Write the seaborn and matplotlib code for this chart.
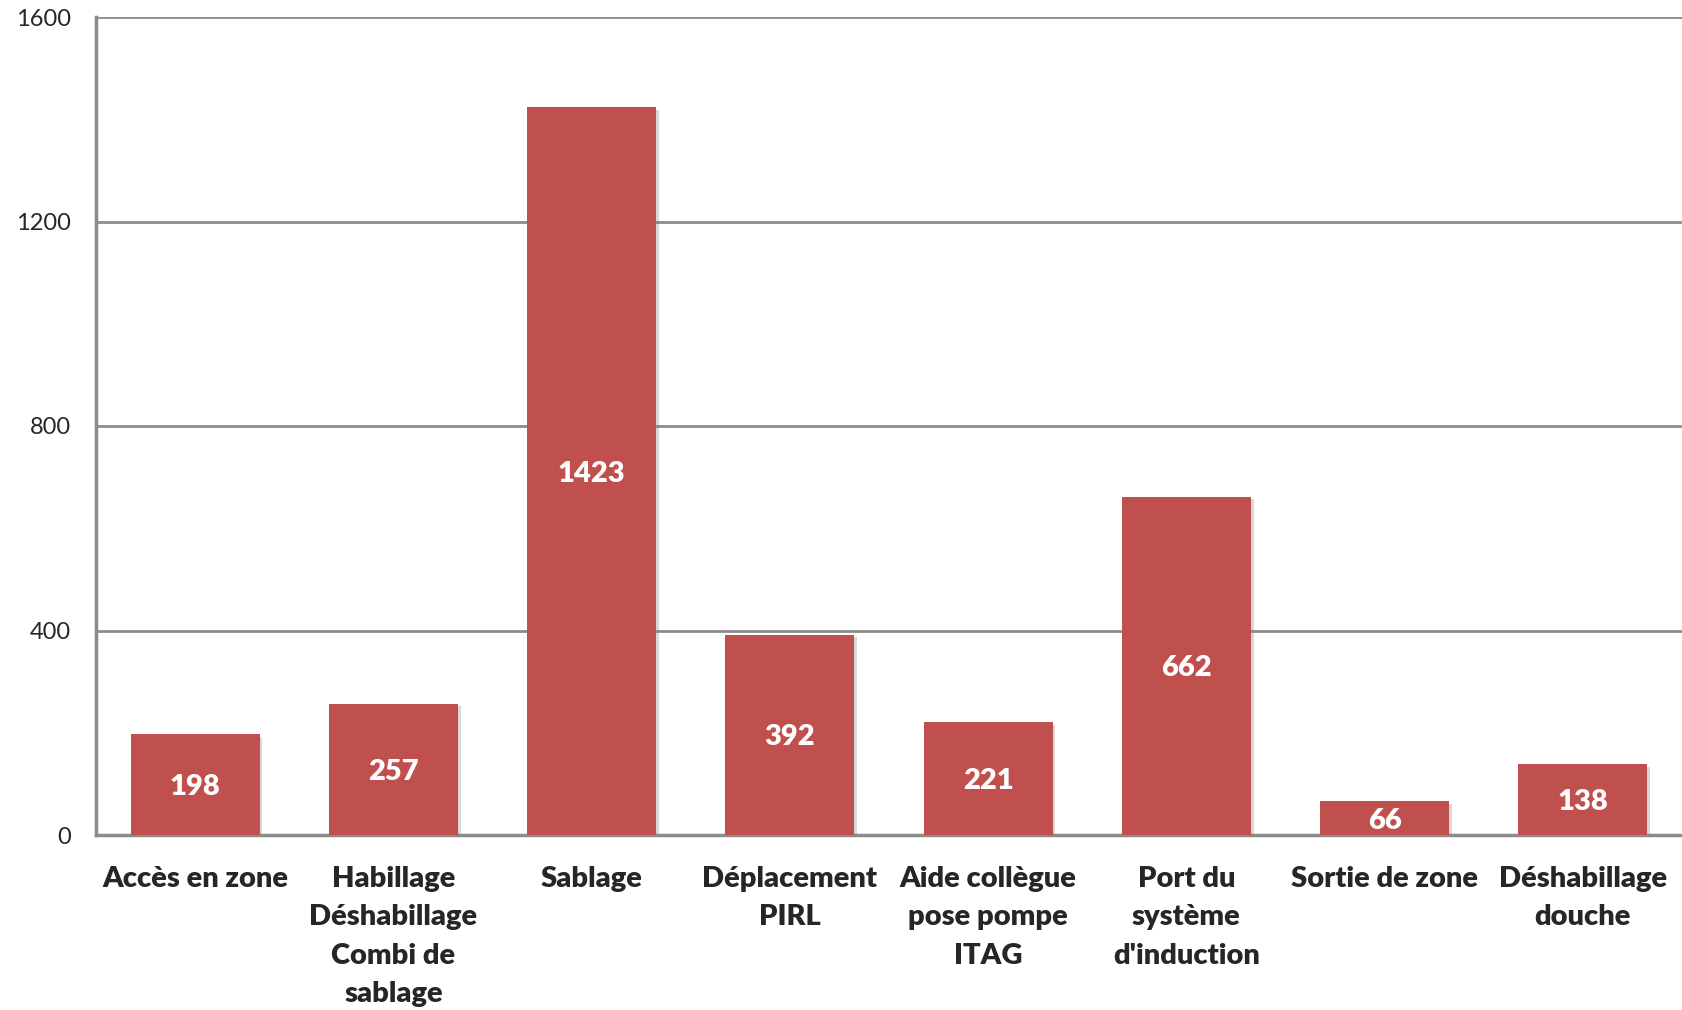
import pandas as pd
import seaborn as sns
import matplotlib.pyplot as plt
import matplotlib.patheffects as pe

categories = [
    "Accès en zone",
    "Habillage\nDéshabillage\nCombi de\nsablage",
    "Sablage",
    "Déplacement\nPIRL",
    "Aide collègue\npose pompe\nITAG",
    "Port du\nsystème\nd'induction",
    "Sortie de zone",
    "Déshabillage\ndouche",
]
values = [198, 257, 1423, 392, 221, 662, 66, 138]
y_ticks = [0, 400, 800, 1200, 1600]

bar_color = "#C0504D"
grid_color = "#8C8C8C"

sns.set_style("white")
plt.rcParams["font.family"] = ["Lato", "DejaVu Sans"]

df = pd.DataFrame({"cat": categories, "val": values})

fig = plt.figure(figsize=(16.82, 10.10), dpi=100)
ax = fig.add_axes([96 / 1682, 1 - 835 / 1010, (1682 - 96) / 1682, (835 - 17) / 1010])

sns.barplot(data=df, x="cat", y="val", color=bar_color, saturation=1,
            width=0.65, ax=ax, zorder=3)

for p in ax.patches:
    p.set_edgecolor("none")
    p.set_path_effects([pe.SimplePatchShadow(offset=(2, -2), shadow_rgbFace="gray", alpha=0.3),
                        pe.Normal()])

for p, v in zip(ax.patches, values):
    ax.text(p.get_x() + p.get_width() / 2, v / 2, str(v), ha="center", va="center_baseline",
            color="white", fontsize=21, fontweight="heavy", zorder=4)

ax.set_ylim(0, 1600)
ax.set_xlim(-0.5, len(categories) - 0.5)
ax.set_yticks(y_ticks)
ax.yaxis.grid(True, color=grid_color, linewidth=2, zorder=0)
ax.set_axisbelow(True)
ax.set_xlabel("")
ax.set_ylabel("")

for side in ["top", "right"]:
    ax.spines[side].set_visible(False)
for side in ["left", "bottom"]:
    ax.spines[side].set_color(grid_color)
    ax.spines[side].set_linewidth(2.5)

ax.tick_params(axis="y", length=0, pad=18, labelsize=17)
ax.tick_params(axis="x", length=0, pad=22, labelsize=21)
for lbl in ax.get_xticklabels():
    lbl.set_fontweight("heavy")
    lbl.set_linespacing(1.6)
    lbl.set_va("top")

fig.savefig("out.png", dpi=100)
